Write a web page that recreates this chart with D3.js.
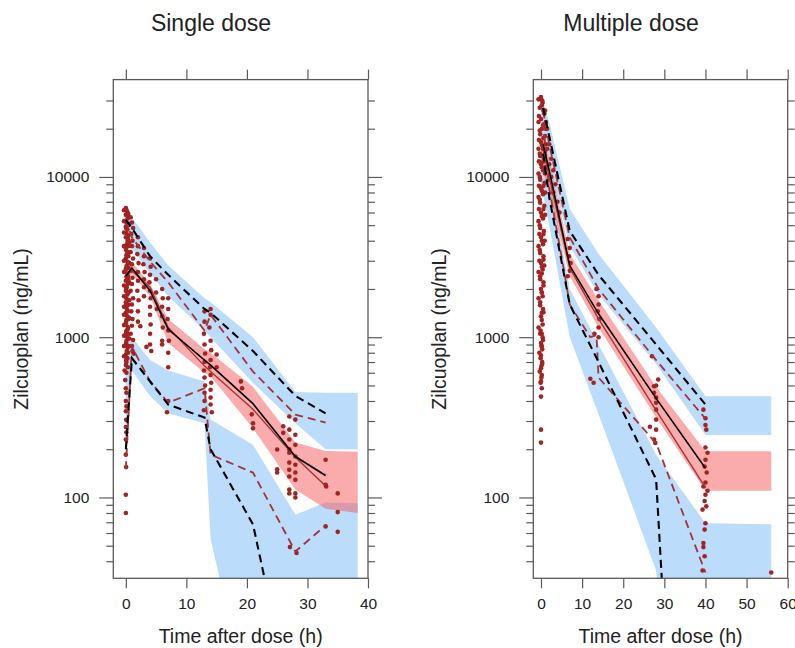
<!DOCTYPE html>
<html>
<head>
<meta charset="utf-8">
<script src="https://cdn.jsdelivr.net/npm/d3@7"></script>
<style>
  body { margin: 0; background: #fff; }
  svg text { font-family: "Liberation Sans", Arial, Helvetica, sans-serif; fill: #222; }
</style>
</head>
<body>
<svg id="chart" width="795" height="648"></svg>
<script>
/* ---- axis ticks ---- */
var yMajorTicks = [100, 1000, 10000];
var yMinorTicks = [40, 50, 60, 70, 80, 90, 200, 300, 400, 500, 600, 700, 800, 900,
                   2000, 3000, 4000, 5000, 6000, 7000, 8000, 9000, 20000, 30000];
var singleXTicks = [0, 10, 20, 30, 40];
var multiXTicks = [0, 10, 20, 30, 40, 50, 60];

/* ---- single dose: prediction interval bands ---- */
var singleBandTime = [0, 1, 4, 7, 13, 14, 21, 28, 33, 38.3];
var singleP95Lo = [4000, 3600, 2500, 1800, 1100, 1000, 520, 290, 200, 200];
var singleP95Hi = [6400, 5600, 3900, 2800, 1750, 1650, 1000, 455, 450, 450];
var singleP50Lo = [2200, 2500, 1800, 920, 600, 570, 270, 112, 85, 80];
var singleP50Hi = [2700, 2950, 2150, 1300, 840, 800, 490, 220, 195, 193];
var singleP05Lo = [140, 620, 430, 335, 290, 55, 4, 1, 1, 1];
var singleP05Hi = [1000, 1000, 720, 620, 530, 306, 213, 78, 93, 92];

/* single dose: simulated (black) and observed (red) percentiles */
var singleLineTime = [0, 1, 4, 7, 13, 14, 21, 28, 33];
var singleSim95 = [5400, 4800, 3200, 2450, 1500, 1420, 820, 430, 335];
var singleSim50 = [2400, 2700, 1950, 1120, 720, 670, 385, 180, 137];
var singleSim05 = [200, 740, 530, 380, 315, 200, 68, 4, 1];
var singleObs95 = [5500, 4200, 2970, 2200, 1100, 1380, 610, 329, 293];
var singleObs50 = [2500, 2600, 2050, 1150, 660, 610, 355, 178, 118];
var singleObs05 = [150, 870, 530, 390, 480, 185, 143, 46, 67];

/* single dose: observations [time, conc] */
var singleObs = [
  [0,6400],[0.2,6100],[0,5800],[0.3,5500],[0.1,5200],[0,4900],[0.25,4700],[0.1,4450],[0,4200],
  [0.3,4000],[0.15,3800],[0,3600],[0.25,3400],[0.1,3250],[0,3100],[0.3,2950],[0.15,2800],[0,2650],
  [0.25,2500],[0.1,2380],[0,2250],[0.3,2150],[0.15,2050],[0,1950],[0.25,1850],[0.1,1750],[0,1650],
  [0.3,1580],[0.15,1500],[0,1420],[0.25,1350],[0.1,1280],[0,1220],[0.3,1160],[0.15,1100],[0,1050],
  [0.25,1000],[0.1,950],[0,900],[0.3,860],[0.15,820],[0,780],[0.25,740],[0.1,700],[0,670],
  [0.4,5900],[0.4,5000],[0.4,4300],[0.45,3700],[0.4,3200],[0.45,2700],[0.4,2300],[0.45,1900],
  [0.4,1600],[0.45,1300],[0.4,1050],[0.45,880],
  [-0.3,6200],[0.05,6300],[0.35,5700],[-0.3,5300],[0.55,5100],[0.05,4800],[-0.3,4500],[0.35,4100],
  [0.55,3900],[-0.3,3700],[0.05,3500],[0.35,3300],[-0.3,3000],[0.55,2900],[0.05,2700],[-0.3,2550],
  [0.35,2400],[0.55,2200],[-0.3,2100],[0.05,2000],[0.35,1900],[-0.3,1800],[0.55,1700],[0.05,1600],
  [-0.3,1550],[0.35,1450],[-0.3,1380],[0.55,1320],[0.05,1250],[-0.3,1190],[0.35,1130],[0.05,1080],
  [-0.3,1020],[0.55,980],[0.05,920],[-0.3,880],[0.35,800],[-0.3,760],[0.05,720],[0.35,650],
  [-0.2,620],[0.1,600],[-0.1,540],
  [0,480],[0.1,450],[0,400],[0.1,370],[0,345],[0.05,305],[0,275],[0.1,255],[0,230],[0,185],
  [0.05,155],[0,104],[0,80],
  [0.8,5600],[1,5200],[1.2,4800],[0.9,4400],[1.1,4000],[1,3700],[0.8,3400],[1.2,3100],[1,2850],
  [0.9,2600],[1.1,2350],[1,2150],[0.8,1950],[1.2,1750],[1,1600],[0.9,1450],[1.1,1300],[1,1180],
  [0.8,1050],[1.2,960],[1,880],[1.1,820],[1.3,790],
  [2,4200],[2,3700],[1.9,3300],[2.1,2900],[2,2550],[2,2250],[1.9,1950],[2.1,1700],[2,1450],[2,1250],
  [3,3600],[3,3200],[2.9,2850],[3.1,2550],[3,2300],[3,2050],[3,1800],[2.4,1170],[3.4,870],
  [4,3100],[4.1,2750],[4,2450],[3.9,2200],[4,1950],[4.1,1750],[4,1550],[4,1380],[4.1,1200],
  [4,1050],[4,900],[4.2,820],
  [5,2300],[5,1900],[5.1,1500],
  [6,2000],[6.1,1750],[6,1550],[6,1350],[6.1,1150],[6,950],[6,900],
  [7,1750],[7,1500],[6.9,1300],[7,1100],[7.1,950],[7,800],[7,650],[7,400],[6.8,340],
  [13,1450],[13,1250],[12.9,1050],[13,900],[13.1,790],[13,700],[12.9,620],[13,560],[13.1,500],
  [13,450],[13,400],[12.9,350],
  [14,1500],[14,1380],[13.8,1150],[14,950],[14.1,830],[14,720],[13.9,650],[14,580],[14.1,520],
  [14,470],[14,420],[14,380],[14.2,340],
  [15,780],[15,650],[19,530],[19.2,480],[20.8,330],[21,290],[21,270],
  [25,199],[25,150],[25,143],[26,278],[26,253],
  [27,320],[27,265],[27,230],[27,200],[27,190],[27,165],[27,149],[27,135],[27,112],[27,106],[27.1,49],
  [28,306],[28,246],[28,213],[28,180],[28,160],[28,143],[28,129],[28,106],[28,100],[28.2,45],
  [33,172],[33,120],[33.1,117],[33,66],[35,106],[35,81],[35,61]
];

/* ---- multiple dose: prediction interval bands ---- */
var multiBandTime = [0, 2, 7, 14, 28, 40, 56];
var multiP95Lo = [18000, 12000, 3700, 1850, 680, 245, 245];
var multiP95Hi = [32000, 22000, 6300, 3300, 1150, 428, 428];
var multiP50Lo = [12000, 8000, 2400, 1150, 316, 110, 110];
var multiP50Hi = [19000, 13000, 3300, 1700, 489, 194, 194];
var multiP05Lo = [9000, 5000, 1000, 330, 35, 0.001, 0.001];
var multiP05Hi = [17000, 10000, 2000, 900, 185, 69, 68];

/* multiple dose: simulated (black) and observed (red) percentiles */
var multiLineTime = [0.5, 2, 7, 14, 28, 40];
var multiSim95 = [27000, 18000, 4600, 2450, 900, 380];
var multiSim50 = [16000, 11000, 2800, 1400, 415, 152];
var multiSim05 = [14000, 7500, 1600, 700, 130, 0.0005];
var multiObs95 = [26000, 16000, 4200, 2000, 720, 310];
var multiObs50 = [15000, 10000, 2700, 1300, 350, 115];
var multiObs05Time = [0.5, 2, 5.5, 7, 12, 13.5, 14, 28, 40];
var multiObs05 = [22000, 8500, 2700, 1600, 1000, 1030, 560, 218, 34];

/* multiple dose: observations [time, conc] */
var multiObs = [
  [0,31500],[0.4,29000],[-0.3,27000],[0.8,25000],[0,23000],[0.5,21000],[-0.3,19500],[1,18000],
  [0,16500],[0.5,15000],[-0.3,14000],[0.9,13000],[0,12000],[0.5,11000],[-0.3,10000],[0.9,9200],
  [0,8500],[0.5,7800],[-0.3,7200],[0.8,6600],[0,6000],[0.5,5500],[-0.3,5000],[0.7,4600],
  [0,4200],[0.5,3800],[-0.3,3500],[0.6,3200],[0,2900],[0.4,2650],[-0.2,2400],[0.6,2200],
  [0,2000],[0.4,1800],[-0.2,1650],[0.5,1500],[0,1350],[0.4,1200],[-0.1,1100],[0.4,1000],
  [0,920],[0.3,840],[0,770],[0.3,700],[0,640],[0.2,580],[0,530],[0.2,480],
  [0.3,30000],[-0.5,24000],[1.2,22000],[-0.5,17000],[1.2,16000],[-0.5,12500],[1.1,11500],
  [-0.5,8800],[1,8000],[-0.5,6300],[1,5800],[-0.4,4400],[0.9,4000],[-0.4,3000],[0.8,2800],
  [0.2,2500],[0.2,1900],[0.2,1420],[0.2,1050],[0.1,880],[0.1,660],
  [-0.6,30500],[0.2,28000],[0.6,26000],[-0.6,22000],[0.2,20000],[-0.2,18500],[0.6,17500],
  [0.2,15800],[-0.6,15000],[-0.2,13500],[0.6,12500],[0.2,11500],[-0.6,10500],[-0.2,9600],
  [0.6,8800],[0.2,8200],[-0.6,7500],[-0.2,6900],[0.6,6300],[0.2,5700],[-0.6,5300],[-0.2,4800],
  [0.6,4400],[0.2,4000],[-0.6,3700],[-0.2,3350],[0.6,3050],[0.2,2750],[-0.6,2550],[-0.2,2300],
  [0.6,2100],[0.2,1900],[-0.6,1750],[-0.2,1580],[0.6,1430],[0.2,1280],[-0.6,1150],[-0.2,1050],
  [0.5,960],[0.2,880],[-0.4,800],[-0.1,740],[0.3,680],[-0.3,610],[0.1,560],[-0.1,520],
  [1.0,26000],[1.0,20000],[1.0,14500],[1.0,10500],
  [0,426],[0,265],[0,220],
  [1.5,20000],[1.5,15000],[2,16000],[2,12000],[2.5,13000],[2.5,10000],[3,11000],[3,8000],
  [3.5,9000],[4,7000],[4.5,6000],
  [6.5,4100],[7,3600],[6.8,3200],[7.2,2900],[7,2600],[6.5,2400],
  [13.5,2000],[14,1800],[14,1600],[13.8,1450],[14.2,1300],[14,1150],[13,1050],[14,1000],
  [12,550],[12.8,520],
  [27,760],[27.5,494],[27.5,450],[28,390],[28,353],[28,306],[28,265],[26.5,276],[27.5,230],
  [28.5,544],[28,500],[28,420],[27.8,219],
  [39.5,353],[40,312],[40,283],[40.2,265],[40,205],[40.5,190],[40,172],[39.8,156],[40.3,143],
  [40,124],[39.5,117],[40.5,110],[40,104],[39.8,95],[40.2,88],[39.3,84],[40,69],[39.8,63],
  [39.5,52],[39.5,49],[39.8,43],[39.3,35],
  [56,34]
];

var BLUE = "#78b9f5", PINK = "#f55a5a", RED = "#a83232", DOT = "#a32222";
var svg = d3.select("#chart");
var TOP = 79.6, BOTTOM = 578.3;

function zip(t, a, b) {
  return t.map(function(v, i) { return b ? [v, a[i], b[i]] : [v, a[i]]; });
}

function drawPanel(p) {
  var x = d3.scaleLinear().domain(p.xDomain).range([p.left, p.right]);
  var y = d3.scaleLog().domain([31.3, 40500]).range([BOTTOM, TOP]);

  svg.append("clipPath").attr("id", "clip-" + p.id).append("rect")
    .attr("x", p.left).attr("y", TOP)
    .attr("width", p.right - p.left).attr("height", BOTTOM - TOP);
  var plot = svg.append("g").attr("clip-path", "url(#clip-" + p.id + ")");

  var band = d3.area().x(function(d) { return x(d[0]); })
    .y0(function(d) { return y(d[1]); }).y1(function(d) { return y(d[2]); });
  var line = d3.line().x(function(d) { return x(d[0]); }).y(function(d) { return y(d[1]); });

  plot.append("path").datum(zip(p.bandTime, p.p95Lo, p.p95Hi)).attr("d", band)
    .attr("fill", BLUE).attr("fill-opacity", 0.5);
  plot.append("path").datum(zip(p.bandTime, p.p05Lo, p.p05Hi)).attr("d", band)
    .attr("fill", BLUE).attr("fill-opacity", 0.5);
  plot.append("path").datum(zip(p.bandTime, p.p50Lo, p.p50Hi)).attr("d", band)
    .attr("fill", PINK).attr("fill-opacity", 0.5);

  plot.selectAll("circle.obs").data(p.obs).enter().append("circle")
    .attr("class", "obs")
    .attr("cx", function(d) { return x(d[0]); })
    .attr("cy", function(d) { return y(d[1]); })
    .attr("r", 2.3).attr("fill", DOT);

  // observed percentiles (red)
  plot.append("path").datum(zip(p.lineTime, p.obs95)).attr("d", line)
    .attr("fill", "none").attr("stroke", RED).attr("stroke-width", 1.8).attr("stroke-dasharray", "8,5");
  plot.append("path").datum(zip(p.obs05Time, p.obs05)).attr("d", line)
    .attr("fill", "none").attr("stroke", RED).attr("stroke-width", 1.8).attr("stroke-dasharray", "8,5");
  plot.append("path").datum(zip(p.lineTime, p.obs50)).attr("d", line)
    .attr("fill", "none").attr("stroke", RED).attr("stroke-width", 1.4);

  // simulated percentiles (black)
  plot.append("path").datum(zip(p.lineTime, p.sim95)).attr("d", line)
    .attr("fill", "none").attr("stroke", "#000").attr("stroke-width", 2.1).attr("stroke-dasharray", "8,5");
  plot.append("path").datum(zip(p.lineTime, p.sim05)).attr("d", line)
    .attr("fill", "none").attr("stroke", "#000").attr("stroke-width", 2.1).attr("stroke-dasharray", "8,5");
  plot.append("path").datum(zip(p.lineTime, p.sim50)).attr("d", line)
    .attr("fill", "none").attr("stroke", "#000").attr("stroke-width", 1.6);

  // axes, lattice style ticks outside on all four sides
  function styleAxis(g) {
    g.select(".domain").remove();
    g.selectAll(".tick line").attr("stroke", "#5a5a5a").attr("stroke-width", 1.2);
    g.selectAll(".tick text").style("font-size", "15.5px").attr("fill", "#222");
  }
  svg.append("g").attr("transform", "translate(" + p.left + ",0)")
    .call(d3.axisLeft(y).tickValues(yMajorTicks).tickSize(14).tickPadding(10).tickFormat(d3.format("d")))
    .call(styleAxis);
  svg.append("g").attr("transform", "translate(" + p.left + ",0)")
    .call(d3.axisLeft(y).tickValues(yMinorTicks).tickSize(7).tickFormat(""))
    .call(styleAxis);
  svg.append("g").attr("transform", "translate(" + p.right + ",0)")
    .call(d3.axisRight(y).tickValues(yMajorTicks).tickSize(14).tickFormat(""))
    .call(styleAxis);
  svg.append("g").attr("transform", "translate(" + p.right + ",0)")
    .call(d3.axisRight(y).tickValues(yMinorTicks).tickSize(7).tickFormat(""))
    .call(styleAxis);
  svg.append("g").attr("transform", "translate(0," + BOTTOM + ")")
    .call(d3.axisBottom(x).tickValues(p.xTicks).tickSize(10).tickPadding(10))
    .call(styleAxis);
  svg.append("g").attr("transform", "translate(0," + TOP + ")")
    .call(d3.axisTop(x).tickValues(p.xTicks).tickSize(10).tickFormat(""))
    .call(styleAxis);

  svg.append("rect").attr("x", p.left).attr("y", TOP)
    .attr("width", p.right - p.left).attr("height", BOTTOM - TOP)
    .attr("fill", "none").attr("stroke", "#5a5a5a").attr("stroke-width", 1.3);

  svg.append("text").attr("x", p.titleX).attr("y", 31).attr("text-anchor", "middle")
    .style("font-size", "23px").text(p.title);
  svg.append("text").attr("x", (p.left + p.right) / 2).attr("y", 643).attr("text-anchor", "middle")
    .style("font-size", "19.5px").text("Time after dose (h)");
  svg.append("text").attr("transform", "translate(" + p.yTitleX + "," + ((TOP + BOTTOM) / 2) + ") rotate(-90)")
    .attr("text-anchor", "middle").style("font-size", "19.5px").text("Zilcuoplan (ng/mL)");
}

drawPanel({
  id: "single", title: "Single dose", titleX: 211, yTitleX: 28,
  left: 113.3, right: 368, xDomain: [-2.07, 40], xTicks: singleXTicks,
  bandTime: singleBandTime,
  p95Lo: singleP95Lo, p95Hi: singleP95Hi, p50Lo: singleP50Lo, p50Hi: singleP50Hi,
  p05Lo: singleP05Lo, p05Hi: singleP05Hi,
  lineTime: singleLineTime, obs05Time: singleLineTime,
  sim95: singleSim95, sim50: singleSim50, sim05: singleSim05,
  obs95: singleObs95, obs50: singleObs50, obs05: singleObs05,
  obs: singleObs
});

drawPanel({
  id: "multi", title: "Multiple dose", titleX: 631, yTitleX: 446,
  left: 533.3, right: 787.7, xDomain: [-1.87, 60], xTicks: multiXTicks,
  bandTime: multiBandTime,
  p95Lo: multiP95Lo, p95Hi: multiP95Hi, p50Lo: multiP50Lo, p50Hi: multiP50Hi,
  p05Lo: multiP05Lo, p05Hi: multiP05Hi,
  lineTime: multiLineTime, obs05Time: multiObs05Time,
  sim95: multiSim95, sim50: multiSim50, sim05: multiSim05,
  obs95: multiObs95, obs50: multiObs50, obs05: multiObs05,
  obs: multiObs
});
</script>
</body>
</html>
